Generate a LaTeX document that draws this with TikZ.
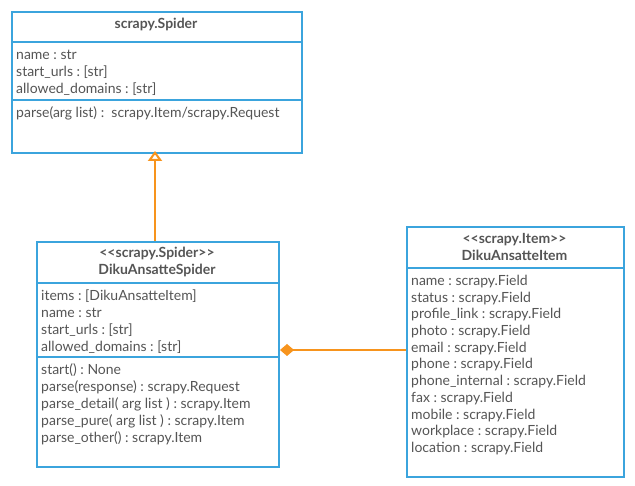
\documentclass[tikz,border=0pt]{standalone}
\usepackage{fontspec}
\setmainfont{Lato}
\frenchspacing
\usetikzlibrary{arrows.meta}
\definecolor{umlblue}{HTML}{3BA4DD}
\definecolor{umlorange}{HTML}{F7941D}
\definecolor{umltext}{HTML}{555555}
\newcommand{\lguil}{<\kern0pt<}
\newcommand{\rguil}{>\kern0pt>}
\begin{document}
\begin{tikzpicture}[x=1pt,y=-1pt,
  classbox/.style={draw=umlblue,line width=2pt,fill=white,anchor=north west,inner sep=0pt},
  sepline/.style={draw=umlblue,line width=2pt},
  row/.style={anchor=base west,inner sep=0pt,text=umltext,font=\fontsize{14}{16}\selectfont},
  title/.style={anchor=base,inner sep=0pt,text=umltext,font=\fontsize{14}{16}\selectfont\bfseries},
  rel/.style={draw=umlorange,line width=2pt}]
\useasboundingbox (0,0) rectangle (635,486);

% scrapy.Spider
\node[classbox,minimum width=290pt,minimum height=141pt] (spider) at (11,11) {};
\node[title] (spiderT) at (156,28.5) {scrapy.Spider};
\draw[sepline] (11,42) -- (301,42);
\draw[sepline] (11,100) -- (301,100);
\foreach \t [count=\i] in {name : str,start\_urls : [str],allowed\_domains : [str]}
  \node[row] (sa\i) at (16,{54+5.5+(\i-1)*16.8}) {\t};
\node[row] (so1) at (16,117.5) {parse(arg list) :\ \ scrapy.Item/scrapy.Request};

% DikuAnsatteSpider
\node[classbox,minimum width=242pt,minimum height=225pt] (dspider) at (36,241) {};
\node[title] (dsS) at (157,258) {\lguil scrapy.Spider\rguil};
\node[title] (dsT) at (157,275) {DikuAnsatteSpider};
\draw[sepline] (36,283) -- (278,283);
\draw[sepline] (36,357) -- (278,357);
\foreach \t [count=\i] in {items : [DikuAnsatteItem],name : str,start\_urls : [str],allowed\_domains : [str]}
  \node[row] (da\i) at (41,{295.5+5.5+(\i-1)*16.8}) {\t};
\foreach \t [count=\i] in {start() : None,parse(response) : scrapy.Request,parse\_detail( arg list ) : scrapy.Item,parse\_pure( arg list ) : scrapy.Item,parse\_other() : scrapy.Item}
  \node[row] (do\i) at (41,{369+5.5+(\i-1)*17}) {\t};

% DikuAnsatteItem
\node[classbox,minimum width=217pt,minimum height=250pt] (ditem) at (406,226) {};
\node[title] (diS) at (514.5,244) {\lguil scrapy.Item\rguil};
\node[title] (diT) at (514.5,260.5) {DikuAnsatteItem};
\draw[sepline] (406,268) -- (623,268);
\foreach \t [count=\i] in {name : scrapy.Field,status : scrapy.Field,profile\_link : scrapy.Field,photo : scrapy.Field,email : scrapy.Field,phone : scrapy.Field,phone\_internal : scrapy.Field,fax : scrapy.Field,mobile : scrapy.Field,workplace : scrapy.Field,location : scrapy.Field}
  \node[row] (di\i) at (411,{280+5.5+(\i-1)*16.7}) {\t};

% relations
\coordinate (tip) at ([yshift=3pt]spider.south -| 155,0);
\draw[rel,-{Triangle[open,length=10pt,width=14pt,fill=white]}] (dspider.north -| 155,0) -- (tip);
\draw[rel,{Diamond[length=14pt,width=12pt,fill=umlorange]}-] (dspider.east |- 0,350) -- (ditem.west |- 0,350);
\end{tikzpicture}
\end{document}
